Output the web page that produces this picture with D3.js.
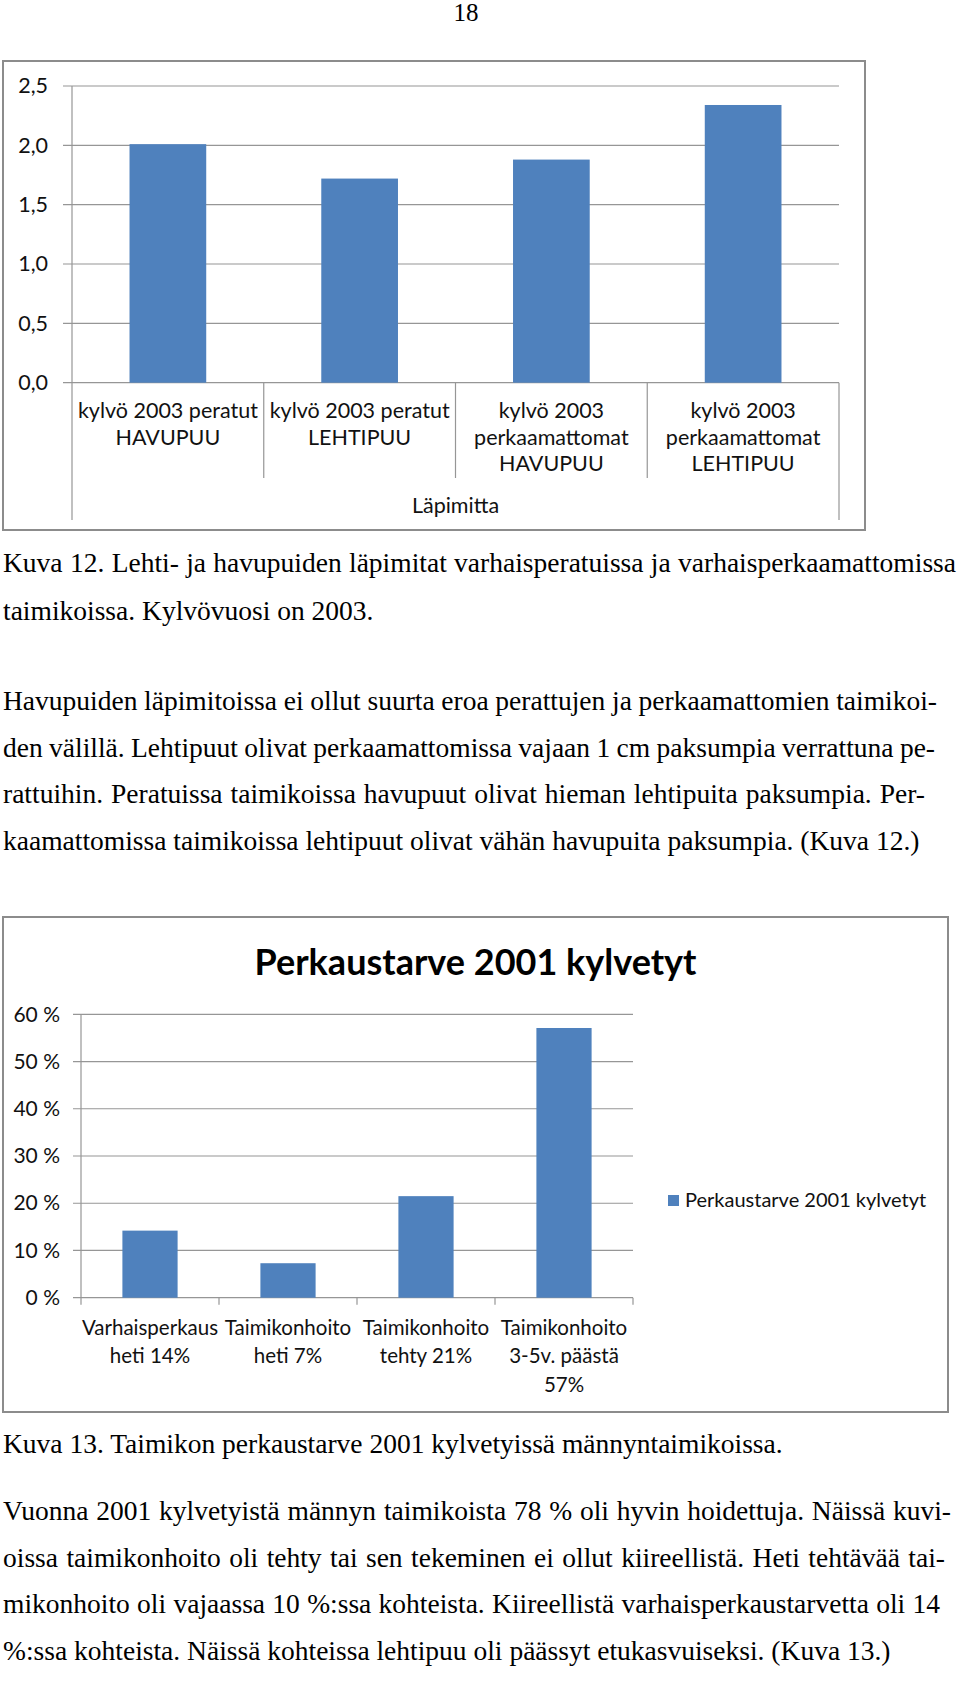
<!DOCTYPE html>
<html><head><meta charset="utf-8">
<script src="https://cdn.jsdelivr.net/npm/d3@7"></script>
<style>body{margin:0;background:#fff} svg{display:block}</style>
</head><body><svg id="page" width="960" height="1694"></svg>
<script>
// ---------- DATA ----------
const pageNumber = "18";
const chart1Categories = [
  ["kylvö 2003 peratut", "HAVUPUU"],
  ["kylvö 2003 peratut", "LEHTIPUU"],
  ["kylvö 2003", "perkaamattomat", "HAVUPUU"],
  ["kylvö 2003", "perkaamattomat", "LEHTIPUU"]
];
const chart1Values = [2.01, 1.72, 1.88, 2.34];
const chart1Ticks = [0, 0.5, 1.0, 1.5, 2.0, 2.5];
const chart1Group = "Läpimitta";

const chart2Title = "Perkaustarve 2001 kylvetyt";
const chart2Categories = [
  ["Varhaisperkaus", "heti 14%"],
  ["Taimikonhoito", "heti 7%"],
  ["Taimikonhoito", "tehty 21%"],
  ["Taimikonhoito", "3-5v. päästä", "57%"]
];
const chart2Values = [0.142, 0.073, 0.215, 0.571];
const chart2Ticks = [0, 0.1, 0.2, 0.3, 0.4, 0.5, 0.6];
const chart2Legend = "Perkaustarve 2001 kylvetyt";

const caption1 = [
  "Kuva 12. Lehti- ja havupuiden läpimitat varhaisperatuissa ja varhaisperkaamattomissa",
  "taimikoissa. Kylvövuosi on 2003."
];
const paragraph1 = [
  "Havupuiden läpimitoissa ei ollut suurta eroa perattujen ja perkaamattomien taimikoi-",
  "den välillä. Lehtipuut olivat perkaamattomissa vajaan 1 cm paksumpia verrattuna pe-",
  "rattuihin. Peratuissa taimikoissa havupuut olivat hieman lehtipuita paksumpia. Per-",
  "kaamattomissa taimikoissa lehtipuut olivat vähän havupuita paksumpia. (Kuva 12.)"
];
const caption2 = ["Kuva 13. Taimikon perkaustarve 2001 kylvetyissä männyntaimikoissa."];
const paragraph2 = [
  "Vuonna 2001 kylvetyistä männyn taimikoista 78 % oli hyvin hoidettuja. Näissä kuvi-",
  "oissa taimikonhoito oli tehty tai sen tekeminen ei ollut kiireellistä. Heti tehtävää tai-",
  "mikonhoito oli vajaassa 10 %:ssa kohteista. Kiireellistä varhaisperkaustarvetta oli 14",
  "%:ssa kohteista. Näissä kohteissa lehtipuu oli päässyt etukasvuiseksi. (Kuva 13.)"
];

// ---------- STYLE / LAYOUT ----------
const BAR = "#4f81bd";
const GRID = "#969696";
const FRAME = "#8c8c8c";
const SANS = "Lato, 'Open Sans', sans-serif";
const SERIF = "'Liberation Serif', 'Times New Roman', serif";
const LBL1 = 21.5;
const LBL2 = 20.5;
const BODY = 27.5;

const svg = d3.select("#page");
svg.append("rect").attr("width", 960).attr("height", 1694).attr("fill", "#fff");

// page number
svg.append("text").attr("x", 466).attr("y", 21).attr("text-anchor", "middle")
  .attr("font-family", SERIF).attr("font-size", 25).text(pageNumber);

// ---------- CHART 1 ----------
const fiLocale = d3.formatLocale({decimal: ",", thousands: " ", grouping: [3], currency: ["", " €"]});
const fmt1 = fiLocale.format(".1f");

svg.append("rect").attr("x", 3).attr("y", 61).attr("width", 862).attr("height", 469)
  .attr("fill", "none").attr("stroke", FRAME).attr("stroke-width", 2);

const c1 = {l: 72, r: 839, t: 86, b: 382.7};
const y1 = d3.scaleLinear().domain([0, 2.5]).range([c1.b, c1.t]);
const x1 = d3.scaleBand().domain(d3.range(chart1Values.length)).range([c1.l, c1.r])
  .paddingInner(0.6).paddingOuter(0.3);
const step1 = x1.step();

const g1 = svg.append("g").attr("font-family", SANS);
g1.selectAll("line.grid").data(chart1Ticks).join("line")
  .attr("x1", c1.l - 9).attr("x2", c1.r)
  .attr("y1", d => y1(d)).attr("y2", d => y1(d))
  .attr("stroke", GRID).attr("stroke-width", 1.2);
const ax1 = g1.append("g").attr("transform", `translate(${c1.l},0)`)
  .call(d3.axisLeft(y1).tickValues(chart1Ticks).tickFormat(fmt1).tickSize(0).tickPadding(24));
ax1.select(".domain").remove();
ax1.selectAll("text").attr("font-size", LBL1).attr("font-family", SANS).attr("fill", "#111");
g1.selectAll("rect.bar").data(chart1Values).join("rect")
  .attr("x", (d, i) => x1(i)).attr("width", x1.bandwidth())
  .attr("y", d => y1(d)).attr("height", d => y1(0) - y1(d)).attr("fill", BAR);
g1.append("line").attr("x1", c1.l).attr("x2", c1.l).attr("y1", c1.t).attr("y2", 520)
  .attr("stroke", GRID).attr("stroke-width", 1.2);
g1.append("line").attr("x1", c1.r).attr("x2", c1.r).attr("y1", c1.b).attr("y2", 520)
  .attr("stroke", GRID).attr("stroke-width", 1.2);
g1.selectAll("line.div").data(d3.range(1, chart1Values.length)).join("line")
  .attr("x1", i => x1(i) - step1 * 0.3).attr("x2", i => x1(i) - step1 * 0.3)
  .attr("y1", c1.b).attr("y2", 478).attr("stroke", GRID).attr("stroke-width", 1.2);
chart1Categories.forEach((lines, i) => {
  const cx = x1(i) + x1.bandwidth() / 2;
  const t = g1.append("text").attr("text-anchor", "middle").attr("font-size", LBL1).attr("fill", "#111");
  lines.forEach((s, j) => t.append("tspan").attr("x", cx).attr("y", 418 + j * 26.5).text(s));
});
g1.append("text").attr("x", (c1.l + c1.r) / 2).attr("y", 513).attr("text-anchor", "middle")
  .attr("font-size", LBL1).attr("fill", "#111").text(chart1Group);

// ---------- CHART 2 ----------
svg.append("rect").attr("x", 3).attr("y", 917).attr("width", 945).attr("height", 495)
  .attr("fill", "none").attr("stroke", FRAME).attr("stroke-width", 2);

const c2 = {l: 81, r: 633, t: 1014.3, b: 1297.7};
const y2 = d3.scaleLinear().domain([0, 0.6]).range([c2.b, c2.t]);
const x2 = d3.scaleBand().domain(d3.range(chart2Values.length)).range([c2.l, c2.r])
  .paddingInner(0.6).paddingOuter(0.3);
const step2 = x2.step();
const fmt2 = d => Math.round(d * 100) + " %";

const g2 = svg.append("g").attr("font-family", SANS);
g2.append("text").attr("x", 475.5).attr("y", 975).attr("text-anchor", "middle")
  .attr("font-size", 36).attr("font-weight", "bold").attr("fill", "#000").text(chart2Title);

g2.selectAll("line.grid").data(chart2Ticks).join("line")
  .attr("x1", c2.l - 8).attr("x2", c2.r)
  .attr("y1", d => y2(d)).attr("y2", d => y2(d))
  .attr("stroke", GRID).attr("stroke-width", 1.2);
const ax2 = g2.append("g").attr("transform", `translate(${c2.l},0)`)
  .call(d3.axisLeft(y2).tickValues(chart2Ticks).tickFormat(fmt2).tickSize(0).tickPadding(21));
ax2.select(".domain").remove();
ax2.selectAll("text").attr("font-size", LBL2 + 0.5).attr("font-family", SANS).attr("fill", "#111");

g2.selectAll("rect.bar").data(chart2Values).join("rect")
  .attr("x", (d, i) => x2(i)).attr("width", x2.bandwidth())
  .attr("y", d => y2(d)).attr("height", d => y2(0) - y2(d)).attr("fill", BAR);

g2.append("line").attr("x1", c2.l).attr("x2", c2.l).attr("y1", c2.t).attr("y2", c2.b + 7)
  .attr("stroke", GRID).attr("stroke-width", 1.2);
g2.selectAll("line.tick").data(d3.range(1, chart2Values.length + 1)).join("line")
  .attr("x1", i => c2.l + i * step2).attr("x2", i => c2.l + i * step2)
  .attr("y1", c2.b).attr("y2", c2.b + 7).attr("stroke", GRID).attr("stroke-width", 1.2);

chart2Categories.forEach((lines, i) => {
  const cx = x2(i) + x2.bandwidth() / 2;
  const t = g2.append("text").attr("text-anchor", "middle").attr("font-size", LBL2).attr("fill", "#111");
  lines.forEach((s, j) => t.append("tspan").attr("x", cx).attr("y", 1335 + j * 28.3).text(s));
});

g2.append("rect").attr("x", 668).attr("y", 1195).attr("width", 11).attr("height", 11).attr("fill", BAR);
g2.append("text").attr("x", 685).attr("y", 1207).attr("font-size", 20).attr("fill", "#111").text(chart2Legend);

// ---------- BODY TEXT ----------
// right edges of the justified (non-final) lines, as laid out on the page
function writeLines(lines, y0, dy, rightEdges) {
  const g = svg.append("g").attr("font-family", SERIF).attr("font-size", BODY).attr("fill", "#000");
  lines.forEach((s, i) => {
    const t = g.append("text").attr("x", 3).attr("y", y0 + i * dy).text(s);
    const target = rightEdges[i];
    if (target) {
      const natural = t.node().getComputedTextLength();
      const spaces = (s.match(/ /g) || []).length;
      if (spaces > 0) t.attr("word-spacing", ((target - 3) - natural) / spaces);
    }
  });
}
writeLines(caption1, 571.7, 48.3, [956, null]);
writeLines(paragraph1, 710, 46.7, [937, 935, 925, null]);
writeLines(caption2, 1453, 46.7, [null]);
writeLines(paragraph2, 1520, 46.7, [951, 945, 940, null]);
</script>
</body></html>
